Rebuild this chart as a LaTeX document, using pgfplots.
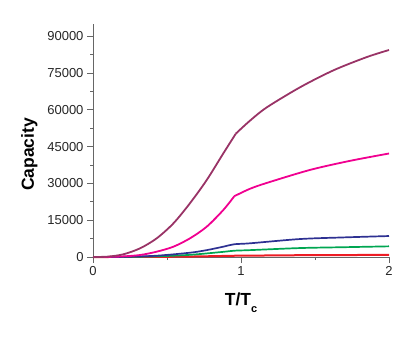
\documentclass[border=0pt]{standalone}
\usepackage{pgfplots}
\pgfplotsset{compat=1.18}
\usepackage{fontspec}
\setmainfont{Liberation Sans}
\definecolor{cpurple}{HTML}{993366}
\definecolor{cpink}{HTML}{F00090}
\definecolor{cblue}{HTML}{2E3192}
\definecolor{cgreen}{HTML}{00A651}
\definecolor{cred}{HTML}{ED1C24}
\begin{document}
\begin{tikzpicture}
\path[use as bounding box] (0,0) rectangle (415bp,339bp);
\begin{axis}[
  at={(93bp,82bp)}, anchor=south west,
  scale only axis, width=296bp, height=233bp,
  xmin=0, xmax=2, ymin=0, ymax=95000,
  axis lines*=left,
  axis line style={gray!80!black, line width=0.8bp, -},
  tick style={gray!80!black, line width=0.8bp},
  tick align=outside,
  major tick length=6bp, minor tick length=3bp,
  xtick={0,1,2}, minor xtick={0.5,1.5},
  ytick={0,15000,30000,45000,60000,75000,90000},
  minor ytick={7500,22500,37500,52500,67500,82500},
  scaled y ticks=false,
  /pgf/number format/assume math mode=true,
  /pgf/number format/set thousands separator={},
  ticklabel style={font=\fontsize{13bp}{15bp}\selectfont, text=black!85},
  xlabel={\textbf{T/T\raisebox{-7bp}{\fontsize{11bp}{11bp}\selectfont c}}},
  ylabel={\textbf{Capacity}},
  label style={font=\fontsize{17.5bp}{20bp}\selectfont},
  xlabel style={at={(axis description cs:0.5,0)}, anchor=north, yshift=-32bp},
  ylabel style={at={(axis description cs:0,0.44)}, anchor=south, yshift=52bp},
  clip=false,
  every axis plot/.append style={smooth, tension=0.5},
]
\addplot[cred, line width=2bp] coordinates {
(0,0) (0.2,5) (0.43,55) (0.655,180) (0.88,420) (0.955,510) (1.06,560) (1.4,730) (1.7,800) (2.0,850)};
\addplot[cgreen, line width=1.7bp] coordinates {
(0,0) (0.2,25) (0.43,270) (0.655,880) (0.88,2100) (0.955,2570) (1.06,2800) (1.4,3650) (1.7,4000) (2.0,4350)};
\addplot[cblue, line width=1.7bp] coordinates {
(0,0) (0.2,50) (0.43,530) (0.655,1750) (0.768,2800) (0.88,4200) (0.955,5200) (1.06,5580) (1.4,7330) (1.7,8000) (2.0,8550)};
\addplot[cpink, line width=1.8bp] coordinates {
(0,0) (0.1,30) (0.205,250) (0.318,810) (0.43,2160) (0.543,4200) (0.655,7600) (0.768,12340) (0.88,19140) (0.955,24800)};
\addplot[cpink, line width=1.8bp] coordinates {
(0.955,24800) (1.06,27800) (1.174,30200) (1.466,35500) (1.736,39200) (2.0,42200)};
\addplot[cpurple, line width=1.8bp] coordinates {
(0,0) (0.1,150) (0.205,1100) (0.318,3540) (0.43,7600) (0.543,13700) (0.655,21900) (0.768,31350) (0.88,42200) (0.965,50300)};
\addplot[cpurple, line width=1.8bp] coordinates {
(0.965,50300) (1.061,55600) (1.174,61000) (1.399,69200) (1.624,76100) (1.849,81500) (2.0,84400)};
\end{axis}
\end{tikzpicture}
\end{document}
